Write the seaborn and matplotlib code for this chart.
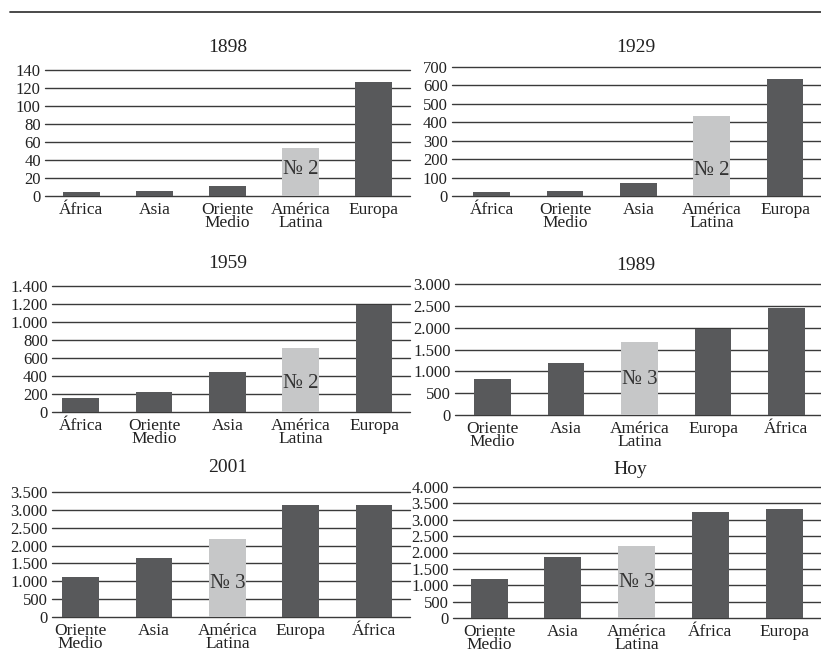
import matplotlib
matplotlib.use("Agg")
import matplotlib.pyplot as plt
import matplotlib.transforms as mtransforms
import seaborn as sns
import pandas as pd

# Data
years = ["1898", "1929", "1959", "1989", "2001", "Hoy"]

regions_1898 = ["África", "Asia", "Oriente\nMedio", "América\nLatina", "Europa"]
values_1898 = [4, 5, 11, 53, 127]

regions_1929 = ["África", "Oriente\nMedio", "Asia", "América\nLatina", "Europa"]
values_1929 = [20, 26, 69, 432, 636]

regions_1959 = ["África", "Oriente\nMedio", "Asia", "América\nLatina", "Europa"]
values_1959 = [160, 218, 447, 709, 1185]

regions_1989 = ["Oriente\nMedio", "Asia", "América\nLatina", "Europa", "África"]
values_1989 = [823, 1192, 1674, 1970, 2447]

regions_2001 = ["Oriente\nMedio", "Asia", "América\nLatina", "Europa", "África"]
values_2001 = [1110, 1664, 2182, 3123, 3150]

regions_hoy = ["Oriente\nMedio", "Asia", "América\nLatina", "África", "Europa"]
values_hoy = [1204, 1863, 2204, 3229, 3323]

rank_labels = ["№ 2", "№ 2", "№ 2", "№ 3", "№ 3", "№ 3"]
y_max = [140, 700, 1400, 3000, 3500, 4000]
y_step = [20, 100, 200, 500, 500, 500]

all_regions = [regions_1898, regions_1929, regions_1959, regions_1989, regions_2001, regions_hoy]
all_values = [values_1898, values_1929, values_1959, values_1989, values_2001, values_hoy]

highlight = "América\nLatina"
dark = "#58595b"
light = "#c6c7c8"
line_col = "#3a3a3a"

sns.set_style("white")
plt.rcParams["font.family"] = ["Liberation Serif", "DejaVu Serif"]

W, H = 821, 671
fig = plt.figure(figsize=(W / 100, H / 100), dpi=100)

# panel boxes in pixels: left, right, top, bottom
boxes = [
    (45, 410, 70, 196),
    (452, 821, 67, 196),
    (52, 410, 286, 412),
    (455, 821, 284, 415),
    (52, 410, 492, 617),
    (453, 821, 487, 618),
]
xlims = [(-0.5, 4.5), (-0.54, 4.49), (-0.39, 4.49), (-0.51, 4.47), (-0.39, 4.49), (-0.49, 4.5)]
titles_xy = [(228, 48), (636, 48), (228, 263), (636, 265), (228, 468), (630, 470)]
label_frac = [0.21, 0.2, 0.23, 0.27, 0.27, 0.27]

# top rule
fig.add_artist(plt.Line2D([10 / W, 1], [1 - 12 / H, 1 - 12 / H], color=line_col, lw=1.3))

for i, (l, r, t, b) in enumerate(boxes):
    ax = fig.add_axes([l / W, 1 - b / H, (r - l) / W, (b - t) / H])
    df = pd.DataFrame({"region": all_regions[i], "value": all_values[i]})
    pal = {reg: (light if reg == highlight else dark) for reg in df["region"]}
    sns.barplot(data=df, x="region", y="value", hue="region", palette=pal,
                width=0.5, saturation=1, legend=False, ax=ax, zorder=3, linewidth=0)
    ax.set_xlim(*xlims[i])
    ax.set_ylim(0, y_max[i])
    ticks = list(range(0, y_max[i] + 1, y_step[i]))
    ax.set_yticks(ticks)
    ax.set_yticklabels([f"{v:,}".replace(",", ".") for v in ticks])
    ax.yaxis.grid(True, color=line_col, lw=1.0, zorder=0)
    for gl in ax.get_ygridlines():
        gl.set_clip_on(False)
    ax.set_axisbelow(True)
    for s in ax.spines.values():
        s.set_visible(False)
    ax.tick_params(axis="both", length=0, colors="#222222")
    ax.tick_params(axis="y", pad=3, labelsize=12)
    ax.tick_params(axis="x", pad=4, labelsize=12.5)
    for lab in ax.get_xticklabels():
        lab.set_linespacing(0.8)
    ax.set_xlabel("")
    ax.set_ylabel("")

    idx = all_regions[i].index(highlight)
    trans = mtransforms.blended_transform_factory(ax.transData, ax.transAxes)
    ax.text(idx, label_frac[i], rank_labels[i], transform=trans, ha="center", va="center",
            fontsize=15, color="#333333", zorder=5)

    tx, ty = titles_xy[i]
    fig.text(tx / W, 1 - ty / H, years[i], ha="center", va="center", fontsize=14, color="#222222")

fig.savefig("out.png", dpi=100, facecolor="white")
